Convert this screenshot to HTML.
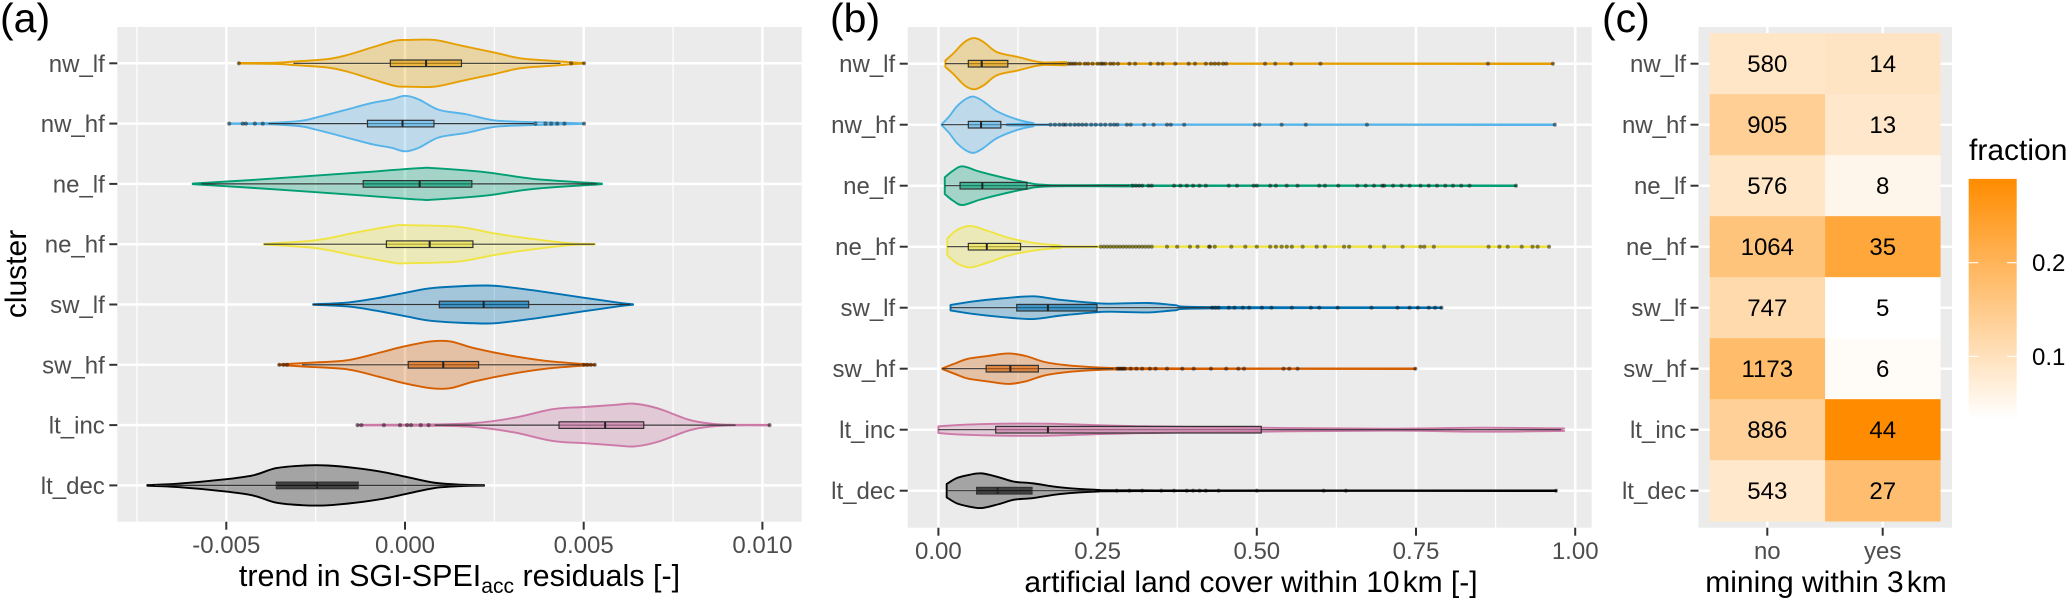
<!DOCTYPE html>
<html lang="en">
<head>
<meta charset="utf-8">
<title>Cluster violins and mining heatmap</title>
<style>
html,body{margin:0;padding:0;background:#fff;width:2067px;height:599px;overflow:hidden}
svg{display:block;font-family:"Liberation Sans",sans-serif;filter:blur(.35px)}
</style>
</head>
<body>
<svg id="figure" xmlns="http://www.w3.org/2000/svg" width="2067" height="599" viewBox="0 0 2067 599">
<defs>
<linearGradient id="fractionGradient" x1="0" y1="1" x2="0" y2="0">
<stop offset="0" stop-color="#FFFFFF"/>
<stop offset="1" stop-color="#FF8C00"/>
</linearGradient>
</defs>
</svg>
<script>
const clusters = ['nw_lf','nw_hf','ne_lf','ne_hf','sw_lf','sw_hf','lt_inc','lt_dec'];
const seriesColors = ['#E69F00','#56B4E9','#009E73','#F0E442','#0072B2','#D55E00','#CC79A7','#000000'];

/* Panel (a): values in units of 0.001 */
const trendTicks = [-5,0,5,10];
const trendTickLabels = ['-0.005','0.000','0.005','0.010'];
const trendMinorTicks = [-7.5,-2.5,2.5,7.5];
const trendNwLfX = [-4.65,-3.6,-3.1,-2.16,-1.6,-0.94,-0.28,0.06,0.83,1.6,2.49,3.26,4.15,4.65,5.01];
const trendNwLfW = [.005,.01,.03,.07,.14,.26,.375,.387,.387,.29,.18,.08,.04,.017,.005];
const trendNwHfX = [-4.92,-3.82,-2.93,-2.49,-1.71,-0.94,-0.39,0,0.39,0.94,1.71,2.49,3.37,4.15,5.01];
const trendNwHfW = [.005,.011,.044,.1,.22,.34,.4,.46,.4,.23,.155,.055,.028,.017,.005];
const trendNeLfX = [-5.94,-4.26,-2.49,-1.16,0.39,0.83,2.27,3.6,5.51];
const trendNeLfW = [.005,.066,.138,.193,.26,.26,.193,.083,.005];
const trendNeHfX = [-3.95,-2.49,-1.38,-0.28,0.06,1.5,2.49,3.48,4.59,5.31];
const trendNeHfW = [.005,.066,.193,.31,.315,.287,.18,.094,.017,.005];
const trendSwLfX = [-2.57,-1.6,-0.83,0.06,0.83,2.27,3.04,4,4.92,6,6.38];
const trendSwLfW = [.005,.033,.1,.2,.276,.315,.276,.2,.12,.028,.005];
const trendSwHfX = [-3.52,-2.71,-1.6,-0.72,-0.06,0.72,1.27,1.94,2.93,3.93,4.92,5.31];
const trendSwHfW = [.005,.033,.077,.2,.3,.387,.387,.276,.155,.066,.017,.005];
const trendLtIncX = [-1.33,0.83,1.94,3.04,4.15,5.03,5.9,6.43,7.08,7.95,8.6,9.23,10.2];
const trendLtIncW = [.005,.011,.033,.12,.265,.3,.337,.354,.276,.088,.022,.005,.005];
const trendLtDecX = [-7.21,-6.36,-5.14,-4.26,-3.6,-2.82,-2.16,-1.38,-0.6,0.06,0.83,1.6,2.21];
const trendLtDecW = [.005,.028,.094,.166,.287,.33,.33,.287,.22,.138,.044,.011,.005];
const trendQ1 = [-0.41,-1.05,-1.17,-0.52,0.96,0.09,4.31,-3.6];
const trendMedian = [0.59,-0.07,0.41,0.69,2.2,1.07,5.6,-2.46];
const trendQ3 = [1.58,0.81,1.87,1.9,3.46,2.06,6.68,-1.31];
const trendWhiskerLow = [-3.12,-3.82,-5.7,-3.95,-2.57,-2.88,0.83,-7.0];
const trendWhiskerHigh = [4.35,3.6,5.37,5.31,6.3,4.92,9.25,2.21];
const trendNwLfOut = [-4.65,4.65,5.01];
const trendNwHfOut = [-4.92,-4.54,-4.45,-4.2,-3.98,3.65,3.93,4.09,4.26,4.46,5.01];
const trendNeLfOut = [];
const trendNeHfOut = [];
const trendSwLfOut = [];
const trendSwHfOut = [-3.52,-3.4,-3.3,5.0,5.1,5.2,5.31];
const trendLtIncOut = [-1.33,-1.22,-0.59,-0.14,0.06,0.17,0.44,0.66,10.2];
const trendLtDecOut = [];

/* Panel (b) */
const landTicks = [0,0.25,0.5,0.75,1];
const landTickLabels = ['0.00','0.25','0.50','0.75','1.00'];
const landMinorTicks = [0.125,0.375,0.625,0.875];
const landNwLfX = [.011,.023,.041,.056,.071,.092,.125,.155,.179,.2,.221,.965];
const landNwLfW = [.055,.164,.355,.42,.355,.19,.11,.033,.011,.027,.005,.005];
const landNwHfX = [.005,.017,.029,.044,.056,.071,.092,.125,.149,.173,.968];
const landNwHfW = [.005,.137,.3,.426,.46,.38,.22,.082,.027,.005,.005];
const landNeLfX = [.01,.023,.038,.065,.1,.137,.173,.3,.33,.907];
const landNeLfW = [.137,.246,.317,.23,.137,.055,.011,.011,.005,.005];
const landNeHfX = [.014,.029,.05,.077,.113,.155,.19,.25,.959];
const landNeHfW = [.137,.273,.34,.262,.137,.055,.022,.005,.005];
const landSwLfX = [.019,.053,.1,.149,.191,.245,.27,.33,.37,.425,.79];
const landSwLfW = [.044,.1,.153,.186,.13,.077,.066,.077,.044,.011,.005];
const landSwHfX = [.006,.029,.047,.077,.11,.137,.167,.203,.239,.28,.4,.749];
const landSwHfW = [.005,.098,.164,.208,.25,.208,.11,.055,.027,.011,.005,.005];
const landLtIncX = [0,.041,.1,.173,.28,.4,.7,.85,.97,.98];
const landLtIncW = [.055,.082,.098,.098,.066,.044,.016,.033,.022,.02];
const landLtDecX = [.013,.029,.047,.068,.095,.119,.149,.191,.245,.34,.97];
const landLtDecW = [.11,.208,.257,.284,.22,.148,.12,.055,.016,.005,.005];
const landQ1 = [.047,.047,.034,.047,.123,.075,.09,.06];
const landMedian = [.068,.067,.069,.076,.172,.113,.172,.093];
const landQ3 = [.109,.098,.139,.129,.249,.157,.507,.147];
const landWhiskerLow = [.011,.005,.01,.014,.019,.006,0,.013];
const landWhiskerHigh = [.2,.173,.3,.25,.43,.275,.978,.245];
const landNwLfOut = [.204,.208,.212,.216,.222,.23,.235,.242,.25,.255,.258,.262,.27,.275,.282,.3,.309,.333,.345,.352,.372,.393,.403,.42,.428,.434,.44,.447,.452,.513,.529,.554,.6,.863,.965];
const landNwHfOut = [.176,.183,.19,.196,.2,.207,.214,.22,.226,.232,.24,.247,.255,.262,.27,.276,.281,.296,.302,.323,.338,.359,.365,.386,.497,.504,.539,.577,.673,.968];
const landNeLfOut = [.305,.31,.315,.32,.33,.335,.37,.38,.39,.4,.41,.42,.456,.469,.495,.5,.521,.53,.547,.564,.598,.607,.628,.658,.671,.684,.697,.7,.714,.727,.74,.757,.77,.783,.796,.808,.821,.834,.907];
const landNeHfOut = [.255,.26,.265,.27,.275,.28,.285,.29,.295,.3,.305,.31,.315,.32,.325,.33,.335,.359,.375,.395,.407,.425,.434,.4265,.46,.482,.5,.521,.53,.539,.547,.555,.572,.594,.607,.637,.645,.678,.7,.729,.757,.763,.778,.864,.881,.894,.916,.933,.941,.959];
const landSwLfOut = [.43,.435,.44,.456,.465,.478,.488,.508,.523,.555,.585,.598,.627,.68,.721,.74,.753,.77,.78,.79];
const landSwHfOut = [.281,.284,.287,.29,.293,.302,.311,.32,.332,.341,.359,.383,.401,.428,.452,.471,.48,.542,.551,.564,.749];
const landLtIncOut = [];
const landLtDecOut = [.28,.3,.32,.35,.37,.39,.4,.41,.42,.44,.5,.605,.64,.97];

/* Panel (c) */
const miningCategories = ['no','yes'];
const miningNoCounts = [580,905,576,1064,747,1173,886,543];
const miningYesCounts = [14,13,8,35,5,6,44,27];
const legendTicks = [0.1,0.2];
const legendTickLabels = ['0.1','0.2'];

const svg = document.getElementById('figure');
const NS = 'http://www.w3.org/2000/svg';
function add(parent, tag, attrs, text) {
  const el = document.createElementNS(NS, tag);
  for (const k in attrs) el.setAttribute(k, attrs[k]);
  if (text !== undefined) el.textContent = text;
  parent.appendChild(el);
  return el;
}
function group(name) {
  const g = add(svg, 'g', {});
  
  
  return g;
}
function smooth(pts, move) {
  let d = (move ? 'M' : 'L') + pts[0][0].toFixed(2) + ' ' + pts[0][1].toFixed(2);
  for (let i = 0; i < pts.length - 1; i++) {
    const p0 = pts[Math.max(i - 1, 0)], p1 = pts[i], p2 = pts[i + 1], p3 = pts[Math.min(i + 2, pts.length - 1)];
    const c1x = p1[0] + (p2[0] - p0[0]) / 6, c1y = p1[1] + (p2[1] - p0[1]) / 6;
    const c2x = p2[0] - (p3[0] - p1[0]) / 6, c2y = p2[1] - (p3[1] - p1[1]) / 6;
    d += 'C' + c1x.toFixed(2) + ' ' + c1y.toFixed(2) + ' ' + c2x.toFixed(2) + ' ' + c2y.toFixed(2) + ' ' + p2[0].toFixed(2) + ' ' + p2[1].toFixed(2);
  }
  return d;
}

function panelFrame(name, box, xGrid, xMinor, yPos, g) {
  const bg = add(g, 'rect', {x: box.l, y: box.t, width: box.r - box.l, height: box.b - box.t, fill: '#EBEBEB'});
  
  
  xMinor.forEach(function (x) {
    const ln = add(g, 'line', {x1: x, x2: x, y1: box.t, y2: box.b, stroke: '#fff', 'stroke-width': 1.2});
    
    
  });
  xGrid.forEach(function (x) {
    const ln = add(g, 'line', {x1: x, x2: x, y1: box.t, y2: box.b, stroke: '#fff', 'stroke-width': 2.5});
    
    
  });
  yPos.forEach(function (y) {
    const ln = add(g, 'line', {x1: box.l, x2: box.r, y1: y, y2: y, stroke: '#fff', 'stroke-width': 2.5});
    
    
  });
}
function axes(name, box, xPos, xLabels, yPos, xLabelY, g) {
  xPos.forEach(function (x, i) {
    const t = add(g, 'line', {x1: x, x2: x, y1: box.b, y2: box.b + 8, stroke: '#333', 'stroke-width': 2});
    
    
    const lb = add(g, 'text', {x: x, y: xLabelY, 'text-anchor': 'middle', 'font-size': 24, fill: '#4D4D4D'}, xLabels[i]);
    
    
  });
  yPos.forEach(function (y, i) {
    const t = add(g, 'line', {x1: box.l - 8, x2: box.l, y1: y, y2: y, stroke: '#333', 'stroke-width': 2});
    
    
    const lb = add(g, 'text', {x: box.l - 12.5, y: y + 8.5, 'text-anchor': 'end', 'font-size': 24, fill: '#4D4D4D'}, clusters[i]);
    
    
  });
}
function drawViolins(name, g, xScale, yScale, band, xs, ws, q1, med, q3, lo, hi, outs) {
  clusters.forEach(function (c, i) {
    const y = yScale(i), col = seriesColors[i];
    const top = xs[i].map(function (v, k) { return [xScale(v), y - ws[i][k] * band]; });
    const bottom = xs[i].map(function (v, k) { return [xScale(v), y + ws[i][k] * band]; }).reverse();
    const violin = add(g, 'path', {d: smooth(top, true) + smooth(bottom, false) + 'Z', fill: col, 'fill-opacity': .3, stroke: col, 'stroke-width': 1.9, 'stroke-linejoin': 'round'});
    
    
    const whisker = add(g, 'line', {x1: xScale(lo[i]), x2: xScale(hi[i]), y1: y, y2: y, stroke: '#333', 'stroke-width': 1.2});
    
    
    const box = add(g, 'rect', {x: xScale(q1[i]), y: y - 3.3, width: xScale(q3[i]) - xScale(q1[i]), height: 6.6, fill: col, 'fill-opacity': .6, stroke: '#333', 'stroke-width': 1.2});
    
    
    const m = add(g, 'line', {x1: xScale(med[i]), x2: xScale(med[i]), y1: y - 3.3, y2: y + 3.3, stroke: '#222', 'stroke-width': 2});
    
    
    outs[i].forEach(function (v) {
      const p = add(g, 'circle', {cx: xScale(v), cy: y, r: 2.1, fill: '#000', 'fill-opacity': .45});
      
      
    });
  });
}

/* Panel (a) */
const boxA = {l: 117.3, r: 801.7, t: 27, b: 521.7};
const xA = function (v) { return 405 + v * 35.74; };
const yA = function (i) { return 63.3 + 60.3 * i; };
const gA = group('panel-a');
const yPosA = clusters.map(function (c, i) { return yA(i); });
panelFrame('trend', boxA, trendTicks.map(xA), trendMinorTicks.map(xA), yPosA, gA);
drawViolins('trend', gA, xA, yA, 60.3,
  [trendNwLfX,trendNwHfX,trendNeLfX,trendNeHfX,trendSwLfX,trendSwHfX,trendLtIncX,trendLtDecX],
  [trendNwLfW,trendNwHfW,trendNeLfW,trendNeHfW,trendSwLfW,trendSwHfW,trendLtIncW,trendLtDecW],
  trendQ1, trendMedian, trendQ3, trendWhiskerLow, trendWhiskerHigh,
  [trendNwLfOut,trendNwHfOut,trendNeLfOut,trendNeHfOut,trendSwLfOut,trendSwHfOut,trendLtIncOut,trendLtDecOut]);
axes('trend', boxA, trendTicks.map(xA), trendTickLabels, yPosA, 553, gA);

/* Panel (b) */
const boxB = {l: 907.7, r: 1591.7, t: 27, b: 527.7};
const xB = function (v) { return 938.4 + v * 636.8; };
const yB = function (i) { return 63.7 + 61 * i; };
const gB = group('panel-b');
const yPosB = clusters.map(function (c, i) { return yB(i); });
panelFrame('land', boxB, landTicks.map(xB), landMinorTicks.map(xB), yPosB, gB);
drawViolins('land', gB, xB, yB, 61,
  [landNwLfX,landNwHfX,landNeLfX,landNeHfX,landSwLfX,landSwHfX,landLtIncX,landLtDecX],
  [landNwLfW,landNwHfW,landNeLfW,landNeHfW,landSwLfW,landSwHfW,landLtIncW,landLtDecW],
  landQ1, landMedian, landQ3, landWhiskerLow, landWhiskerHigh,
  [landNwLfOut,landNwHfOut,landNeLfOut,landNeHfOut,landSwLfOut,landSwHfOut,landLtIncOut,landLtDecOut]);
axes('land', boxB, landTicks.map(xB), landTickLabels, yPosB, 559, gB);

/* Panel (c) */
const boxC = {l: 1698.5, r: 1952, t: 27, b: 527.7};
const gC = group('panel-c');
const xC = function (i) { return 1767.3 + 115.4 * i; };
const tileWidth = 115.2, tileHeight = 61.05;
const yPosC = clusters.map(function (c, i) { return yB(i); });
const xPosC = miningCategories.map(function (c, i) { return xC(i); });
panelFrame('mining', boxC, xPosC, [], yPosC, gC);
const miningColumns = [miningNoCounts, miningYesCounts];
const columnTotals = miningColumns.map(function (col) { return col.reduce(function (a, b) { return a + b; }, 0); });
const miningFractions = miningColumns.map(function (col, j) { return col.map(function (n) { return n / columnTotals[j]; }); });
const allFractions = miningFractions[0].concat(miningFractions[1]);
const fracMin = Math.min.apply(null, allFractions), fracMax = Math.max.apply(null, allFractions);
function fractionColor(f) {
  const t = (f - fracMin) / (fracMax - fracMin);
  return 'rgb(255,' + Math.round(255 - 115 * t) + ',' + Math.round(255 * (1 - t)) + ')';
}
miningColumns.forEach(function (col, j) {
  col.forEach(function (n, i) {
    const cell = add(gC, 'rect', {x: xC(j) - tileWidth / 2, y: yB(i) - tileHeight / 2, width: tileWidth + .3, height: tileHeight + .3, fill: fractionColor(miningFractions[j][i])});
    
    
  });
});
miningColumns.forEach(function (col, j) {
  col.forEach(function (n, i) {
    const lb = add(gC, 'text', {x: xC(j), y: yB(i) + 8.5, 'text-anchor': 'middle', 'font-size': 24, fill: '#000'}, String(n));
    
    
  });
});
axes('mining', boxC, xPosC, miningCategories, yPosC, 559, gC);

/* Legend */
const gL = group('fraction-legend');
const yLegend = function (f) { return 356.4 - (f - 0.1) * 937; };
const legendTitle = add(gL, 'text', {x: 1969, y: 160, 'font-size': 30, fill: '#000'}, 'fraction');


const legendBar = add(gL, 'rect', {x: 1968.7, y: yLegend(fracMax), width: 48, height: yLegend(fracMin) - yLegend(fracMax), fill: 'url(#fractionGradient)'});


legendTicks.forEach(function (f, i) {
  const y = yLegend(f);
  const t1 = add(gL, 'line', {x1: 1968.7, x2: 1978.3, y1: y, y2: y, stroke: '#fff', 'stroke-width': 1.1});
  
  
  const t2 = add(gL, 'line', {x1: 2007.1, x2: 2016.7, y1: y, y2: y, stroke: '#fff', 'stroke-width': 1.1});
  
  
  const lb = add(gL, 'text', {x: 2032, y: y + 8.5, 'font-size': 24, fill: '#000'}, legendTickLabels[i]);
  
  
});

/* Titles */
const gT = group('titles');
const tagA = add(gT, 'text', {x: 0, y: 32, 'font-size': 41, fill: '#000'}, '(a)');


const tagB = add(gT, 'text', {x: 830, y: 32, 'font-size': 41, fill: '#000'}, '(b)');


const tagC = add(gT, 'text', {x: 1602, y: 32, 'font-size': 41, fill: '#000'}, '(c)');


const yTitle = add(gT, 'text', {x: 0, y: 0, transform: 'translate(26,274) rotate(-90)', 'text-anchor': 'middle', 'font-size': 30, fill: '#000'}, 'cluster');


const xTitleA = add(gT, 'text', {x: 459.5, y: 586, 'text-anchor': 'middle', 'font-size': 30.5, fill: '#000'});


add(xTitleA, 'tspan', {}, 'trend in SGI-SPEI');
add(xTitleA, 'tspan', {dy: 7, 'font-size': 21}, 'acc');
add(xTitleA, 'tspan', {dy: -7}, ' residuals [-]');
const xTitleB = add(gT, 'text', {x: 1251, y: 592, 'text-anchor': 'middle', 'font-size': 30, fill: '#000'});


add(xTitleB, 'tspan', {}, 'artificial land cover within 10');
add(xTitleB, 'tspan', {dx: 3}, 'km [-]');
const xTitleC = add(gT, 'text', {x: 1826, y: 592, 'text-anchor': 'middle', 'font-size': 30, fill: '#000'});


add(xTitleC, 'tspan', {}, 'mining within 3');
add(xTitleC, 'tspan', {dx: 3}, 'km');
</script>
</body>
</html>
